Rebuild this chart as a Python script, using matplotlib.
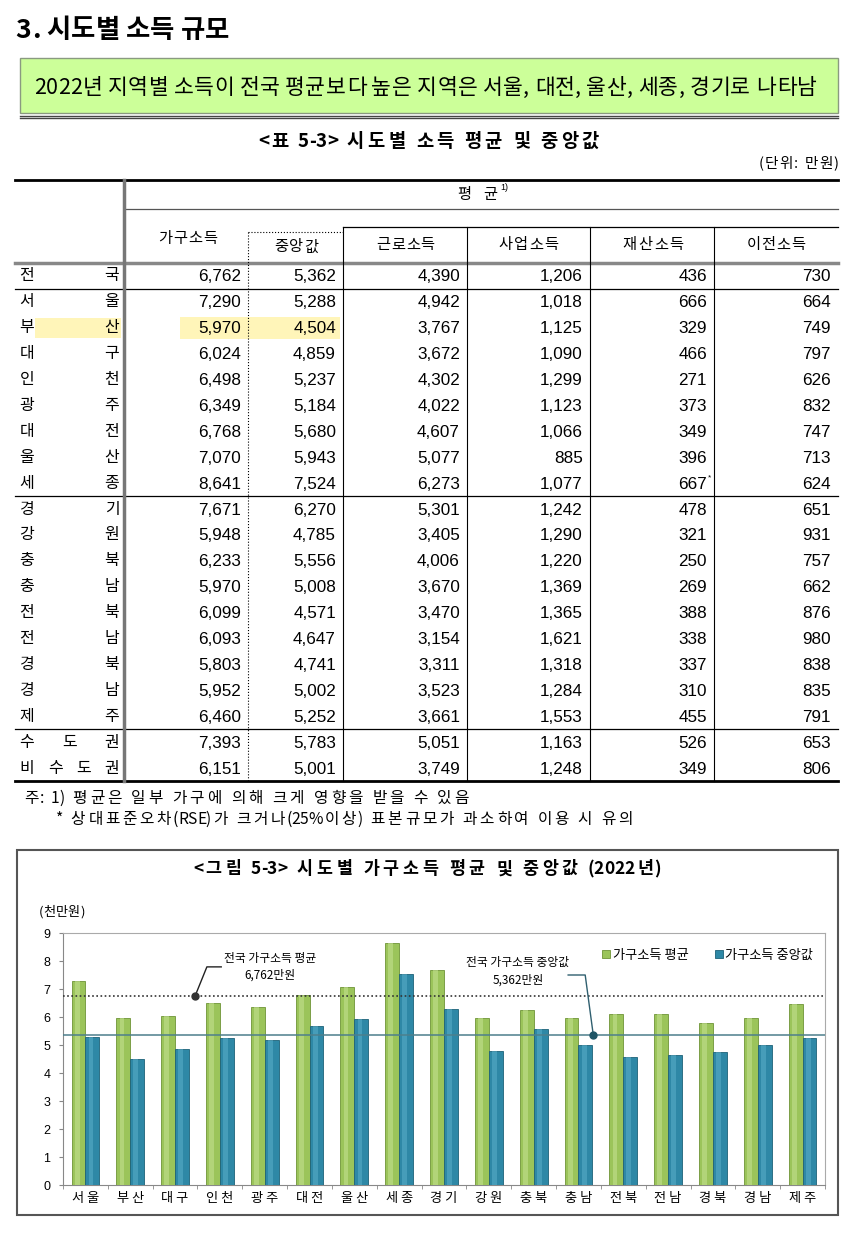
import matplotlib
matplotlib.use("Agg")
import matplotlib.pyplot as plt
from matplotlib.patches import Rectangle
from matplotlib.font_manager import FontProperties, findfont
from matplotlib.ft2font import FT2Font
import numpy as np

plt.rcParams['font.family'] = ['Noto Sans CJK KR', 'DejaVu Sans']

# ---- data (table 5-3, 만원) ----
regions = ['전국', '서울', '부산', '대구', '인천', '광주', '대전', '울산', '세종',
           '경기', '강원', '충북', '충남', '전북', '전남', '경북', '경남', '제주',
           '수도권', '비수도권']
household = [6762, 7290, 5970, 6024, 6498, 6349, 6768, 7070, 8641,
             7671, 5948, 6233, 5970, 6099, 6093, 5803, 5952, 6460, 7393, 6151]
median = [5362, 5288, 4504, 4859, 5237, 5184, 5680, 5943, 7524,
          6270, 4785, 5556, 5008, 4571, 4647, 4741, 5002, 5252, 5783, 5001]
earned = [4390, 4942, 3767, 3672, 4302, 4022, 4607, 5077, 6273,
          5301, 3405, 4006, 3670, 3470, 3154, 3311, 3523, 3661, 5051, 3749]
business = [1206, 1018, 1125, 1090, 1299, 1123, 1066, 885, 1077,
            1242, 1290, 1220, 1369, 1365, 1621, 1318, 1284, 1553, 1163, 1248]
property_inc = [436, 666, 329, 466, 271, 373, 349, 396, 667,
                478, 321, 250, 269, 388, 338, 337, 310, 455, 526, 349]
transfer = [730, 664, 749, 797, 626, 832, 747, 713, 624,
            651, 931, 757, 662, 876, 980, 838, 835, 791, 653, 806]
col_headers = ['근로소득', '사업소득', '재산소득', '이전소득']

# chart uses the 17 시도 rows, in 천만원
chart_regions = regions[1:18]
chart_mean = [v / 1000 for v in household[1:18]]
chart_median = [v / 1000 for v in median[1:18]]
nat_mean = household[0] / 1000
nat_median = median[0] / 1000

NUM = ['Liberation Sans', 'DejaVu Sans']
KR = ['Noto Sans CJK KR', 'DejaVu Sans']

fig = plt.figure(figsize=(8.5, 12.36), dpi=100)
pg = fig.add_axes([0, 0, 1, 1])
pg.set_xlim(0, 850)
pg.set_ylim(1236, 0)
pg.axis('off')

_fonts = {}


def _wide(c):
    return c == ' ' or '\uac00' <= c <= '\ud7a3'


def spread(x0, x1, y, s, size, weight='normal', **kw):
    """Draw s char by char so it spans x0..x1; extra space goes next to Hangul only."""
    if weight not in _fonts:
        _fonts[weight] = FT2Font(findfont(FontProperties(family='Noto Sans CJK KR', weight=weight)))
    ft = _fonts[weight]
    ft.set_size(size, 100)
    advs, bears = [], []
    for c in s:
        g = ft.load_char(ord(c))
        advs.append(g.linearHoriAdvance / 65536)
        bears.append(g.horiBearingX / 64)
    gaps = [0.5 * (_wide(a) + _wide(b)) for a, b in zip(s[:-1], s[1:])] + [0.0]
    track = (x1 - x0 - sum(advs)) / max(sum(gaps), 1)
    base = y + 0.36 * size * 100 / 72
    pen = x0
    for c, a, b, gp in zip(s, advs, bears, gaps):
        if c != ' ':
            pg.text(pen + b, base, c, fontsize=size, fontweight=weight, family=KR,
                    ha='left', va='baseline', **kw)
        pen += a + track * gp


# ---- heading + banner ----
spread(15, 228, 28, '3. 시도별 소득 규모', 19, weight='bold')
pg.add_patch(Rectangle((20, 58), 818, 55, facecolor='#ccff99',
                       edgecolor='#8a9a80', lw=1))
pg.plot([20, 838], [115.5, 115.5], color='#444444', lw=1)
pg.plot([20, 838], [118, 118], color='#444444', lw=1)
spread(33, 815, 86, '2022년 지역별 소득이 전국 평균보다 높은 지역은 서울, 대전, 울산, 세종, 경기로 나타남', 15.5)

# ---- table ----
spread(258, 598, 140, '<표 5-3> 시도별 소득 평균 및 중앙값', 13.5, weight='bold')
spread(757, 838, 163, '(단위: 만원)', 10.5)

L, R = 15, 838
x_lab = 124
col_edges = [124, 248, 343, 467, 590, 714, 838]
row_top = 263
row_h = 25.9
n = len(regions)
y_rows = [row_top + row_h * (i + 0.5) for i in range(n)]
bottom = row_top + row_h * n

# highlight 부산
yb = y_rows[2]
pg.add_patch(Rectangle((35, yb - 10), 86, 20, facecolor='#fff3a8', edgecolor='none', alpha=0.8))
pg.add_patch(Rectangle((180, yb - 11), 160, 22, facecolor='#fff3a8', edgecolor='none', alpha=0.8))

pg.plot([L, R], [180, 180], color='black', lw=2)
pg.plot([x_lab + 2, R], [209, 209], color='#555555', lw=0.9)
pg.plot([343, R], [227, 227], color='black', lw=0.9)
pg.plot([248, 343], [232, 232], color='black', lw=0.8, ls=':')
pg.plot([L, R], [row_top, row_top], color='#888888', lw=2.5)
for i in (1, 9, 18):
    yy = row_top + row_h * i
    pg.plot([L, R], [yy, yy], color='black', lw=0.9)
pg.plot([L, R], [bottom, bottom], color='black', lw=2)
pg.plot([x_lab, x_lab], [180, bottom], color='#777777', lw=2.5)
pg.plot([248, 248], [232, bottom], color='black', lw=0.8, ls=':')
for xe in col_edges[2:6]:
    pg.plot([xe, xe], [227, bottom], color='black', lw=0.8)

spread(457, 497, 194, '평   균', 11)
pg.text(500, 188, '1)', fontsize=6.5, ha='left', va='center', family=NUM)
spread(157, 217, 237, '가구소득', 11)
spread(273, 318, 246, '중앙값', 11)
head_spans = [(376, 434), (498, 558), (622, 683), (745, 805)]
for (a, b), h in zip(head_spans, col_headers):
    spread(a, b, 244, h, 11)

columns = [household, median, earned, business, property_inc, transfer]
for i, name in enumerate(regions):
    y = y_rows[i]
    chars = list(name)
    k = len(chars)
    xs = np.linspace(27, 112, k) if k > 1 else [70]
    for cx, ch in zip(xs, chars):
        pg.text(cx, y, ch, fontsize=11.5, ha='center', va='center', family=KR)
    for j, col in enumerate(columns):
        xr = col_edges[j + 1] - 7
        pg.text(xr, y + 1, f'{col[i]:,}', fontsize=12.3, ha='right',
                va='center', family=NUM)
        if j == 4 and name == '세종':
            pg.text(xr + 1, y - 5, '*', fontsize=6, ha='left', va='center', family=NUM)

spread(23, 468, 797, '주: 1) 평균은 일부 가구에 의해 크게 영향을 받을 수 있음', 11.3)
spread(55, 632, 818, '* 상대표준오차(RSE)가 크거나(25%이상) 표본규모가 과소하여 이용 시 유의', 11.3)

# ---- chart ----
pg.add_patch(Rectangle((17, 850), 821, 365, facecolor='white',
                       edgecolor='#555555', lw=1.5))
spread(193, 660, 868, '<그림 5-3> 시도별 가구소득 평균 및 중앙값 (2022년)', 12.5, weight='bold')
spread(38, 84, 911, '(천만원)', 9.5)

ax = fig.add_axes([63 / 850, (1236 - 1185) / 1236, (825 - 63) / 850, (1185 - 933) / 1236])
x = np.arange(len(chart_regions))
w = 0.31
b1 = ax.bar(x - w / 2, chart_mean, w, color='#9bc45a', edgecolor='#6e9436',
            lw=0.6, label='가구소득 평균', zorder=3)
b2 = ax.bar(x + w / 2, chart_median, w, color='#2e88a6', edgecolor='#1d6178',
            lw=0.6, label='가구소득 중앙값', zorder=3)
# highlight stripes for the cylinder look
ax.bar(x - w / 2 - 0.03, chart_mean, w * 0.35, color='#c3e08e', alpha=0.6, lw=0, zorder=4)
ax.bar(x + w / 2 - 0.03, chart_median, w * 0.35, color='#5fb2cc', alpha=0.5, lw=0, zorder=4)

ax.axhline(nat_mean, color='#333333', lw=1.2, ls=(0, (1, 1.5)), zorder=5)
ax.axhline(nat_median, color='#4d7f8c', lw=1.1, zorder=5)

ax.set_xlim(-0.5, len(x) - 0.5)
ax.set_ylim(0, 9)
ax.set_yticks(range(10))
ax.set_yticklabels([str(v) for v in range(10)], family=NUM, fontsize=9)
ax.set_xticks(x)
ax.set_xticklabels([' '.join(r) for r in chart_regions], fontsize=9.5, family=KR)
ax.set_xticks(np.arange(-0.5, len(x)), minor=True)
ax.tick_params(axis='x', which='major', length=0, pad=5)
ax.tick_params(axis='x', which='minor', length=3, color='#888888')
ax.tick_params(axis='y', length=3, color='#888888', pad=6)
for s in ax.spines.values():
    s.set_color('#aaaaaa')
ax.spines['left'].set_color('#888888')
ax.spines['bottom'].set_color('#888888')

# annotations
ax.plot([3.03, 2.71, 2.45], [7.79, 7.79, nat_mean], color='#222222', lw=1, zorder=6)
ax.plot(2.45, nat_mean, 'o', color='#333333', ms=5, zorder=7)
ax.text(4.12, 8.1, '전국 가구소득 평균', fontsize=8.5, ha='center', va='center', family=KR)
ax.text(4.12, 7.5, '6,762만원', fontsize=8.5, ha='center', va='center', family=KR)
ax.plot([10.77, 11.15, 11.33], [7.5, 7.5, nat_median], color='#2f5f6f', lw=1, zorder=6)
ax.plot(11.33, nat_median, 'o', color='#1f5566', ms=5, zorder=7)
ax.text(9.65, 7.96, '전국 가구소득 중앙값', fontsize=8.5, ha='center', va='center', family=KR)
ax.text(9.65, 7.32, '5,362만원', fontsize=8.5, ha='center', va='center', family=KR)

ax.legend(handles=[b1, b2], loc='upper right', bbox_to_anchor=(1.0, 0.985), ncol=2,
          frameon=False, handlelength=0.6, handleheight=0.6, handletextpad=0.2,
          columnspacing=2.0, prop={'family': KR, 'size': 9.5})

fig.savefig('out.png', dpi=100)
